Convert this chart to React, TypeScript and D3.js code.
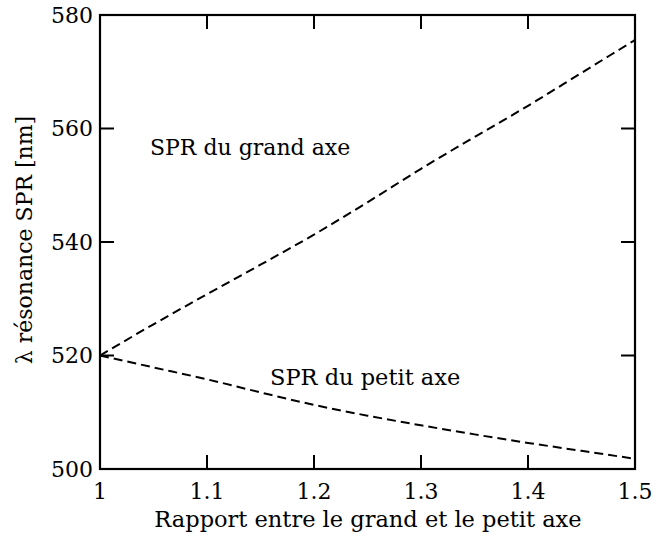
import React from "react";
import * as d3 from "d3";

const ratios = [1.0, 1.05, 1.1, 1.15, 1.2, 1.25, 1.3, 1.35, 1.4, 1.45, 1.5];
const grandAxe = [520, 525.5, 530.8, 536.0, 541.3, 547.0, 552.9, 558.5, 564.0, 569.8, 575.6];
const petitAxe = [520, 517.9, 515.8, 513.5, 511.3, 509.4, 507.7, 506.1, 504.6, 503.2, 501.8];
const xTicks = [1, 1.1, 1.2, 1.3, 1.4, 1.5];
const xTickLabels = ["1", "1.1", "1.2", "1.3", "1.4", "1.5"];
const yTicks = [500, 520, 540, 560, 580];

const W = 653;
const H = 536;
const left = 100;
const right = 635;
const top = 15;
const bottom = 469;
const FONT = "DejaVu Serif, Liberation Serif, serif";

export default function App() {
  const x = d3.scaleLinear().domain([1, 1.5]).range([left, right]);
  const y = d3.scaleLinear().domain([500, 580]).range([bottom, top]);
  const line = d3
    .line<number>()
    .x((_, i) => x(ratios[i]))
    .y((d) => y(d))
    .curve(d3.curveMonotoneX);
  const tickLen = 14;
  return (
    <svg
      width={W}
      height={H}
      style={{ position: "absolute", left: 0, top: 0, background: "#fff" }}
    >
      <rect x={0} y={0} width={W} height={H} fill="#fff" />
      {xTicks.slice(1, -1).map((t) => (
        <g key={"xt" + t}>
          <line x1={x(t)} x2={x(t)} y1={bottom} y2={bottom - tickLen} stroke="#000" strokeWidth={2} />
          <line x1={x(t)} x2={x(t)} y1={top} y2={top + tickLen} stroke="#000" strokeWidth={2} />
        </g>
      ))}
      {yTicks.slice(1, -1).map((t) => (
        <g key={"yt" + t}>
          <line x1={left} x2={left + tickLen} y1={y(t)} y2={y(t)} stroke="#000" strokeWidth={2} />
          <line x1={right} x2={right - tickLen} y1={y(t)} y2={y(t)} stroke="#000" strokeWidth={2} />
        </g>
      ))}
      <rect
        x={left}
        y={top}
        width={right - left}
        height={bottom - top}
        fill="none"
        stroke="#000"
        strokeWidth={2.2}
      />
      {xTicks.map((t, i) => (
        <text
          key={"xl" + t}
          x={x(t)}
          y={499}
          textAnchor="middle"
          fontFamily={FONT}
          fontSize={22}
          fill="#000"
        >
          {xTickLabels[i]}
        </text>
      ))}
      {yTicks.map((t) => (
        <text
          key={"yl" + t}
          x={93}
          y={y(t)}
          dy="0.36em"
          textAnchor="end"
          fontFamily={FONT}
          fontSize={22}
          fill="#000"
        >
          {t}
        </text>
      ))}
      <path
        d={line(grandAxe) || ""}
        fill="none"
        stroke="#000"
        strokeWidth={2}
        strokeDasharray="9,5"
      />
      <path
        d={line(petitAxe) || ""}
        fill="none"
        stroke="#000"
        strokeWidth={2}
        strokeDasharray="9,5"
      />
      <text x={150} y={155} fontFamily={FONT} fontSize={22} fill="#000">
        SPR du grand axe
      </text>
      <text x={270} y={385} fontFamily={FONT} fontSize={22.5} fill="#000">
        SPR du petit axe
      </text>
      <text
        x={368}
        y={527}
        textAnchor="middle"
        fontFamily={FONT}
        fontSize={22.5}
        fill="#000"
      >
        Rapport entre le grand et le petit axe
      </text>
      <text
        transform="translate(32,240) rotate(-90)"
        textAnchor="middle"
        fontFamily={FONT}
        fontSize={22}
        fill="#000"
      >
        λ résonance SPR [nm]
      </text>
    </svg>
  );
}
